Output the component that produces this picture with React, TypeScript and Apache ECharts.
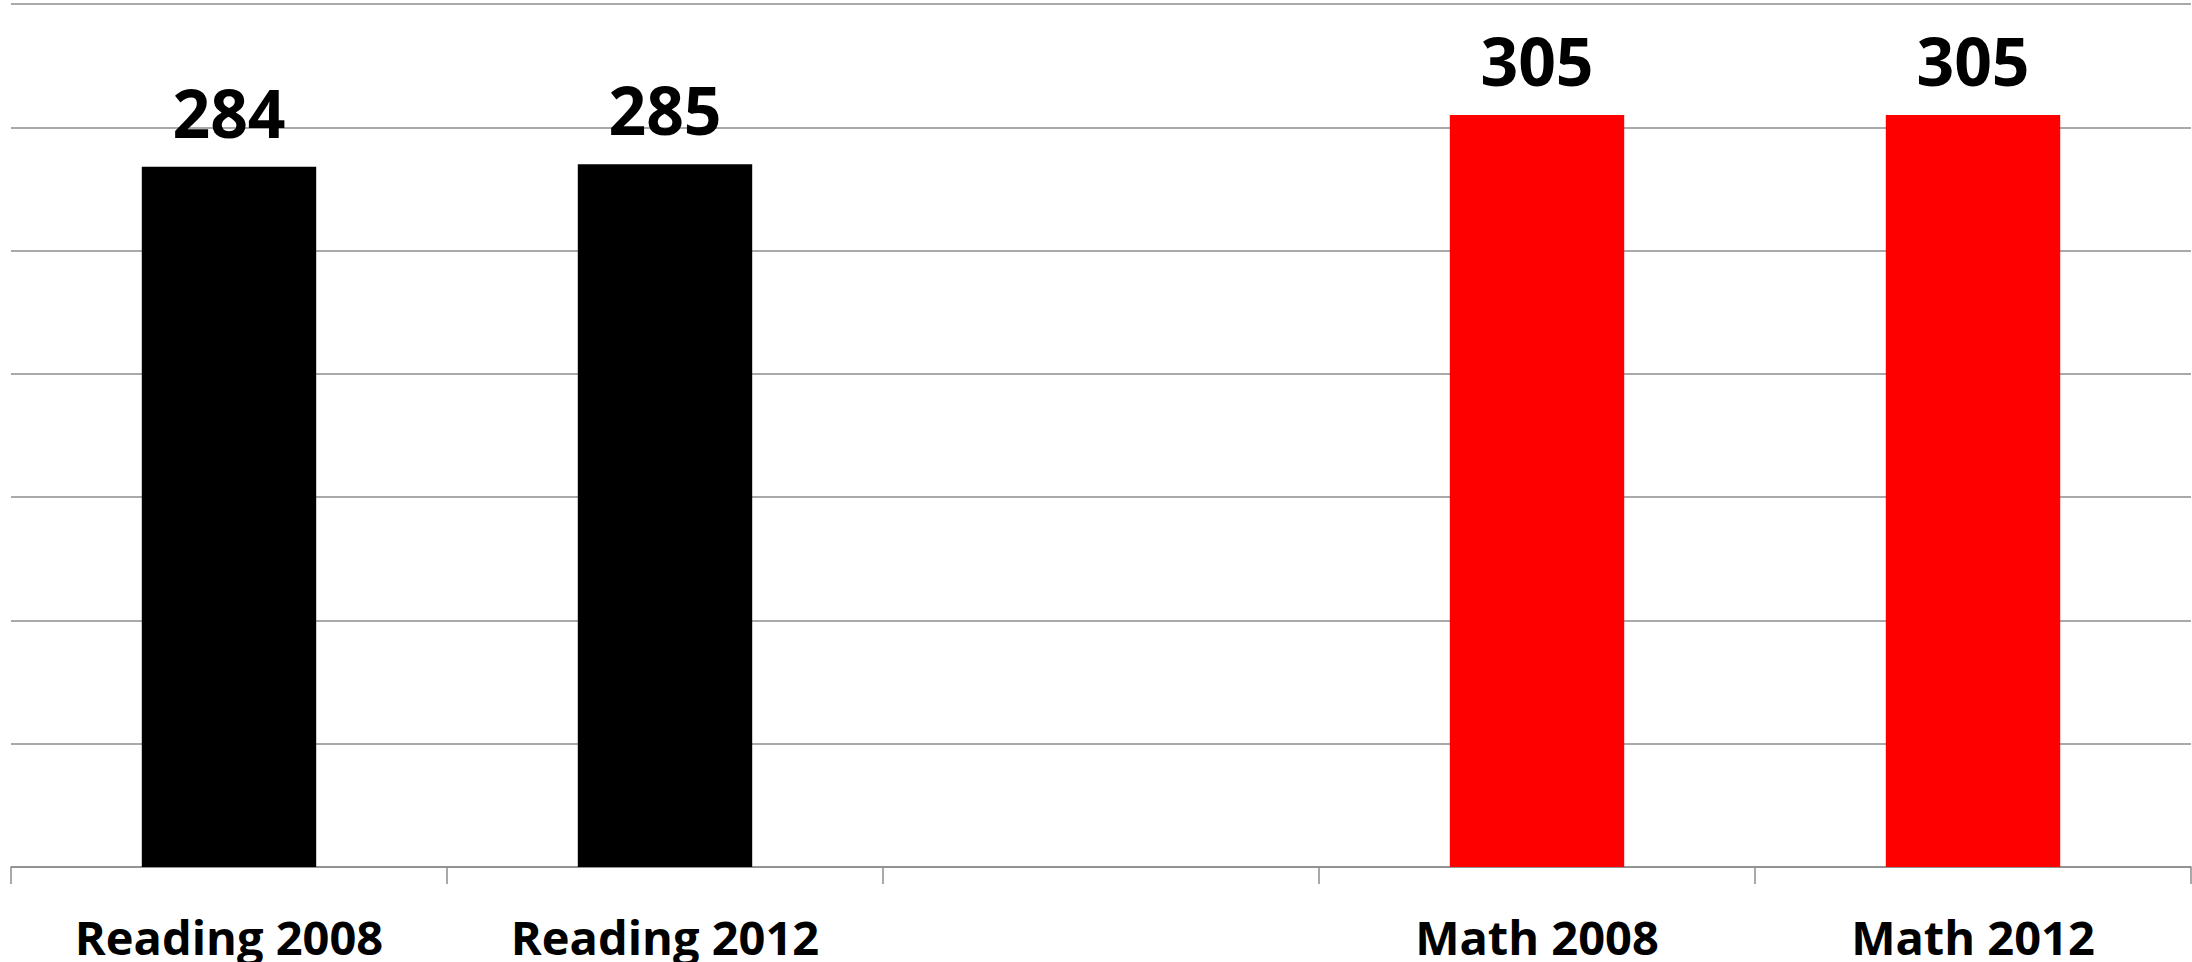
import React, { useEffect, useRef } from "react";
import * as echarts from "echarts";

const categories = ["Reading 2008", "Reading 2012", "", "Math 2008", "Math 2012"];
const scores = [284, 285, null, 305, 305];
const barColors = ["#000000", "#000000", "#000000", "#FF0000", "#FF0000"];
const yTicks = { min: 0, max: 350, interval: 50 };

export default function App() {
  const ref = useRef<HTMLDivElement>(null);
  useEffect(() => {
    document.body.style.margin = "0";
    const chart = echarts.init(ref.current!, undefined, { renderer: "svg" });
    chart.setOption({
      animation: false,
      backgroundColor: "#ffffff",
      grid: { left: 11, right: 1, top: 4, bottom: 95, containLabel: false },
      xAxis: {
        type: "category",
        data: categories,
        axisLine: { show: true, lineStyle: { color: "#8c8c8c", width: 1.5 } },
        axisTick: { show: true, length: 17, lineStyle: { color: "#8c8c8c", width: 1.5 } },
        axisLabel: {
          margin: 46,
          fontFamily: "Open Sans",
          fontWeight: "bold",
          fontSize: 47,
          color: "#000000",
          interval: 0,
        },
      },
      yAxis: {
        type: "value",
        min: yTicks.min,
        max: yTicks.max,
        interval: yTicks.interval,
        axisLabel: { show: false },
        axisLine: { show: false },
        axisTick: { show: false },
        splitLine: { show: true, lineStyle: { color: "#8c8c8c", width: 1.5 } },
      },
      series: [
        {
          type: "bar",
          barWidth: "40%",
          data: scores.map((v, i) => ({ value: v, itemStyle: { color: barColors[i] } })),
          label: {
            show: true,
            position: "top",
            distance: 22,
            fontFamily: "Open Sans",
            fontWeight: "bold",
            fontSize: 66,
            color: "#000000",
          },
        },
      ],
    });
    return () => chart.dispose();
  }, []);
  return <div ref={ref} style={{ width: 2192, height: 962 }} />;
}
